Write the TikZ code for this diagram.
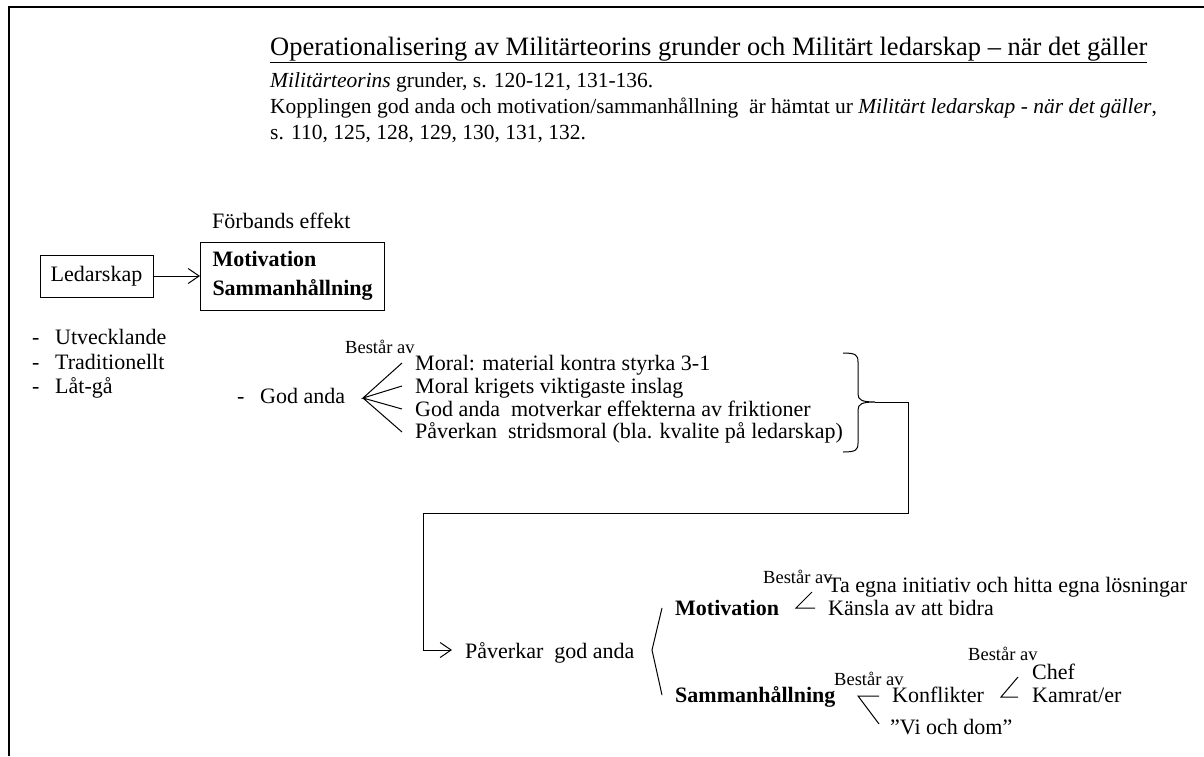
\documentclass[tikz,border=0pt]{standalone}
\usepackage{fontspec}
\setmainfont{Liberation Serif}
\usetikzlibrary{arrows.meta}
\begin{document}
\begin{tikzpicture}[x=1pt,y=-1pt,
  txt/.style={anchor=base west,inner sep=0pt,font=\fontsize{22}{26}\selectfont},
  hdr/.style={anchor=base west,inner sep=0pt,font=\fontsize{21.5}{26}\selectfont},
  small/.style={anchor=base west,inner sep=0pt,font=\fontsize{18.5}{20}\selectfont},
  bold/.style={txt,font=\fontsize{22}{26}\selectfont\bfseries},
  ln/.style={line width=1pt},
  arr/.style={line width=1pt,-{Straight Barb[length=11pt,width=15pt]}}]
\useasboundingbox (0,0) rectangle (1204,756);
\draw[line width=2.5pt] (9,756) -- (9,7) -- (1204,7);
% header
\node[txt,font=\fontsize{26.5}{30}\selectfont] (title) at (270,55) {\underline{Operationalisering av Militärteorins grunder  och Militärt ledarskap – när det gäller}};
\node[hdr] (h2) at (270,87) {\textit{Militärteorins} grunder, s. 120-121, 131-136.};
\node[hdr] (h3) at (270,113) {Kopplingen god anda och motivation/sammanhållning\ \ är hämtat ur \textit{Militärt ledarskap - när det gäller},};
\node[hdr] (h4) at (270,139) {s. 110, 125, 128, 129, 130, 131, 132.};
% top boxes
\node[txt] (fe) at (212,228) {Förbands effekt};
\node[draw,ln,minimum width=113pt,minimum height=42pt,inner sep=0pt,font=\fontsize{22}{26}\selectfont] (led) at (96.5,276) {Ledarskap};
\node[draw,ln,anchor=west,minimum height=68pt,inner xsep=12pt,inner ysep=0pt,align=left,font=\fontsize{22}{29}\selectfont\bfseries] (mbox) at (200,276) {Motivation\\Sammanhållning};
\draw[arr] (led.east) -- (mbox.west);
% styles list
\node[txt] (d1) at (32,344) {-};
\node[txt] (l1) at (55,344) {Utvecklande};
\node[txt] (d2) at (32,369) {-};
\node[txt] (l2) at (55,369) {Traditionellt};
\node[txt] (d3) at (32,393) {-};
\node[txt] (l3) at (55,393) {Låt-gå};
% God anda
\node[txt] (d4) at (237,403) {-};
\node[txt] (god) at (260,403) {God anda};
\node[small] (b1) at (345,353) {Består av};
\coordinate (g0) at (363,398);
\coordinate (e1) at (402,363);
\coordinate (e2) at (402,386);
\coordinate (e3) at (402,409);
\coordinate (e4) at (402,432);
\draw[ln] (e1) -- (g0) -- (e2) (g0) -- (e3) (g0) -- (e4);
\node[txt] (i1) at (415,370) {Moral: material kontra styrka 3-1};
\node[txt] (i2) at (415,393) {Moral krigets viktigaste inslag};
\node[txt] (i3) at (415,416) {God anda\ \ motverkar effekterna av friktioner};
\node[txt] (i4) at (415,438) {Påverkan\ \ stridsmoral (bla. kvalite på ledarskap)};
% brace
\coordinate (brtip) at (875,402);
\draw[ln] (843,353) .. controls (856,353) and (858,355) .. (858,362) -- (858,394)
  .. controls (858,400) and (862,402) .. (brtip)
  .. controls (862,402) and (858,404) .. (858,410) -- (858,443)
  .. controls (858,450) and (856,452) .. (843,452);
\coordinate (k1) at (908,513);
\coordinate (k2) at (423,513);
\coordinate (pin) at (452,650);
\draw[arr] (brtip) -| (k1) -- (k2) |- (pin);
\node[txt] (pav) at (465,658) {Påverkar\ \ god anda};
% angle bracket
\coordinate (a1) at (662,608);
\coordinate (a0) at (652,650);
\coordinate (a2) at (662,695);
\draw[ln] (a1) -- (a0) -- (a2);
\node[bold] (mot) at (675,615) {Motivation};
\node[bold] (sam) at (675,702) {Sammanhållning};
% motivation branch
\node[small] (b2) at (763,583) {Består av};
\coordinate (m0) at (796,608);
\draw[ln] (812,592) -- (m0) -- (815,608);
\node[txt] (t1) at (828,592) {Ta egna initiativ och hitta egna lösningar};
\node[txt] (t2) at (828,615) {Känsla av att bidra};
% sammanhållning branch
\node[small] (b3) at (834,685) {Består av};
\coordinate (s0) at (858,696);
\draw[ln] (879,696) -- (s0) -- (879,724);
\node[txt] (kon) at (892,702) {Konflikter};
\node[txt] (vi) at (890,734) {”Vi och dom”};
\node[small] (b4) at (968,660) {Består av};
\coordinate (c0) at (1001,697);
\draw[ln] (1018,677) -- (c0) -- (1018,697);
\node[txt] (chef) at (1032,679) {Chef};
\node[txt] (kam) at (1032,702) {Kamrat/er};
\end{tikzpicture}
\end{document}
